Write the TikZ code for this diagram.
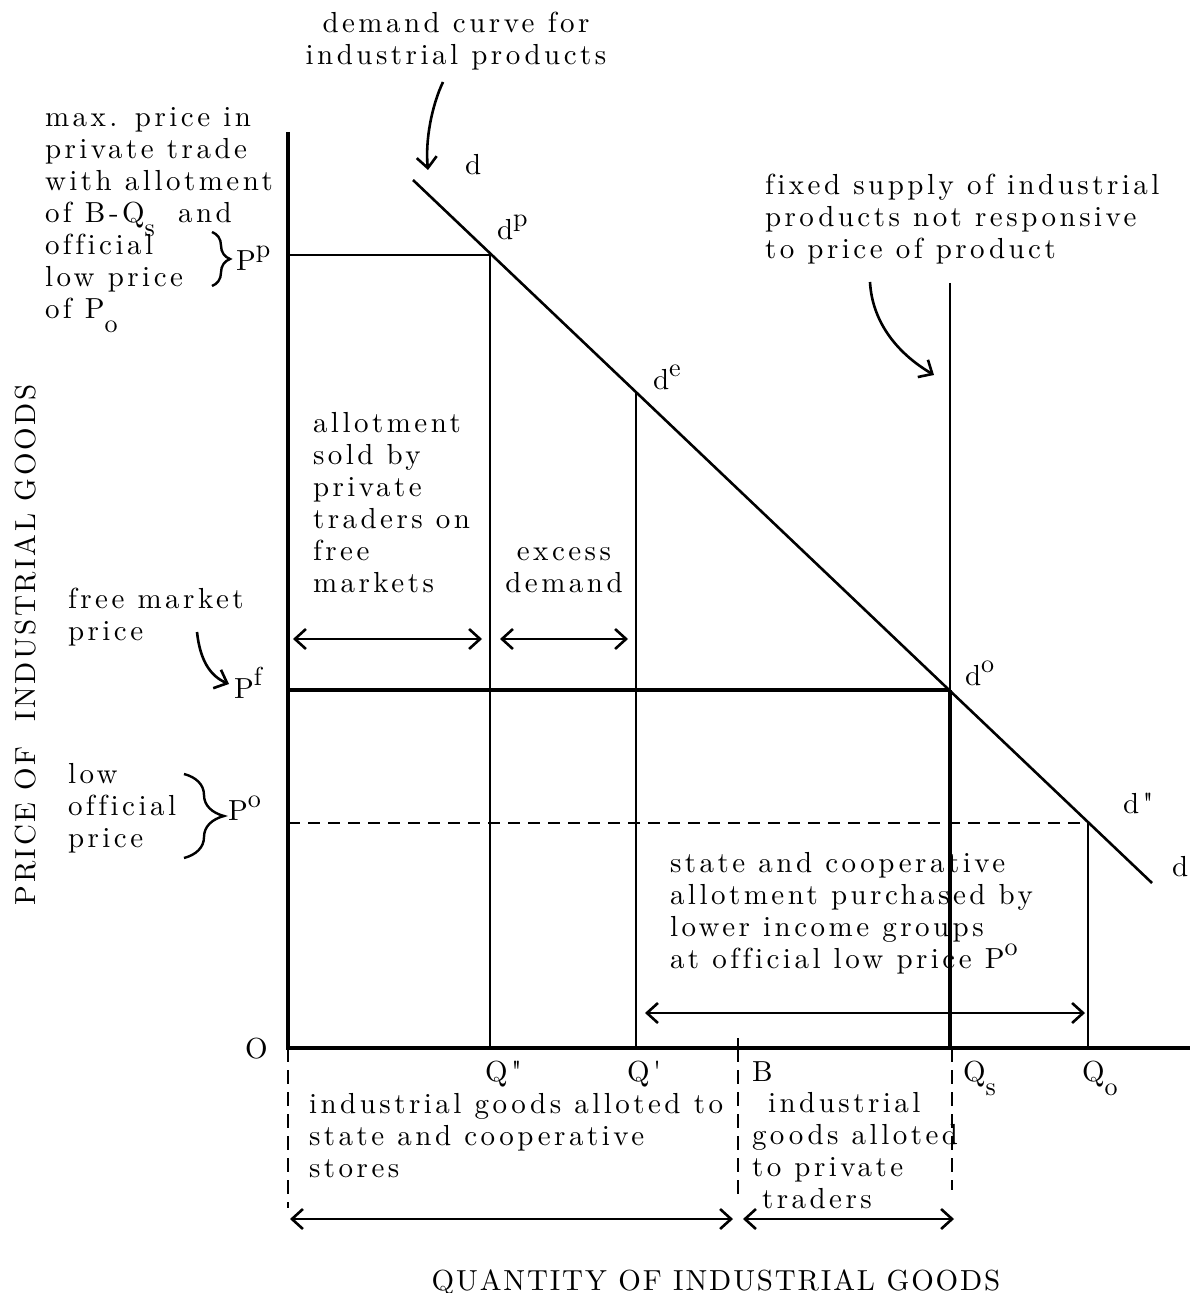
\documentclass[tikz,border=0pt]{standalone}
\usepackage{fontspec}
\setmainfont{lmroman10-regular.otf}[LetterSpace=12, Ligatures={TeXOff,CommonOff}]
\usetikzlibrary{arrows.meta,decorations.pathreplacing}
\newcommand{\sps}[1]{\smash{\raisebox{6.5pt}{\fontsize{13}{13}\selectfont #1}}}
\newcommand{\sbs}[1]{\smash{\raisebox{-7pt}{\fontsize{13}{13}\selectfont #1}}}
\newcommand{\st}{\rule{0pt}{10pt}}
\tikzset{
  every node/.style={font=\fontsize{14.5}{16}\selectfont, inner sep=0pt, outer sep=0pt},
  blk/.style={align=left, anchor=north west},
  blkc/.style={align=center, anchor=north},
  lbl/.style={anchor=base west},
  thin/.style={line width=1.3pt},
  thick/.style={line width=2.4pt},
  axis/.style={line width=2.3pt},
  dsh/.style={line width=1.3pt, dash pattern=on 6pt off 4pt},
  dshv/.style={line width=1.3pt, dash pattern=on 7pt off 4pt},
  dbl/.style={line width=1.3pt, {Straight Barb[length=5.5pt,width=10pt]}-{Straight Barb[length=5.5pt,width=10pt]}},
  sgl/.style={line width=1.3pt, -{Straight Barb[length=5.5pt,width=10pt]}},
  brc/.style={line width=1.2pt, decorate},
}
\begin{document}
\begin{tikzpicture}[x=0.5pt,y=-0.5pt]
\useasboundingbox (0,0) rectangle (1192,1293);
% key points
\coordinate (O) at (288,1048);
\coordinate (ytop) at (288,132);
\coordinate (xend) at (1190,1048);
\coordinate (dtop) at (413,180);
\coordinate (dend) at (1152,883);
\coordinate (pp) at (288,255);
\coordinate (dp) at (490,255);
\coordinate (qpp) at (490,1048);
\coordinate (de) at (636,393);
\coordinate (qp) at (636,1048);
\coordinate (pf) at (288,690);
\coordinate (do) at (950,690);
\coordinate (stop) at (950,283);
\coordinate (qs) at (950,1048);
\coordinate (po) at (288,823);
\coordinate (dpp) at (1088,823);
\coordinate (qo) at (1088,1048);
\coordinate (btick) at (738,1038);
\coordinate (b) at (738,1048);
\coordinate (bbot) at (738,1200);
\coordinate (obot) at (288,1208);
\coordinate (qstop) at (952,1048);
\coordinate (qsbot) at (952,1190);
\coordinate (a1l) at (293,639); \coordinate (a1r) at (482,639);
\coordinate (a2l) at (500,639); \coordinate (a2r) at (628,639);
\coordinate (a3l) at (645,1013); \coordinate (a3r) at (1085,1013);
\coordinate (a4l) at (290,1219); \coordinate (a4r) at (733,1219);
\coordinate (a5l) at (743,1219); \coordinate (a5r) at (954,1219);

% axes
\draw[axis] (ytop) -- (O) -- (xend);
% demand curve
\draw[thin] (dtop) -- (dend);
% lines
\draw[thin] (pp) -- (dp) -- (qpp);
\draw[thin] (de) -- (qp);
\draw[thick] (pf) -- (do);
\draw[thin] (stop) -- (do);
\draw[thick] (do) -- (qs);
\draw[dsh] (po) -- (dpp);
\draw[thin] (dpp) -- (qo);
\draw[thin] (btick) -- (b);
\draw[dshv] (b) -- (bbot);
\draw[dshv] (O) -- (obot);
\draw[dshv] (qstop) -- (qsbot);
% arrows
\draw[dbl] (a1l) -- (a1r);
\draw[dbl] (a2l) -- (a2r);
\draw[dbl] (a3l) -- (a3r);
\draw[dbl] (a4l) -- (a4r);
\draw[dbl] (a5l) -- (a5r);

% labels
\node[blkc] (demlbl) at (456,12) {\st demand curve for\\industrial products};
\coordinate (demA) at (443,82); \coordinate (demB) at (428,170);
\draw[sgl] (demA) .. controls (432,105) and (425,140) .. (demB);

\node[blk] (fixlbl) at (765,174) {\st fixed supply of industrial\\products not responsive\\to price of product};
\coordinate (supA) at (870,282); \coordinate (supB) at (934,375);
\draw[sgl] (supA) .. controls (872,320) and (895,352) .. (supB);

\node[blk] (maxlbl) at (45,107) {\st max. price in\\private trade\\with allotment\\of B-Q\sbs{s}\hspace{5pt} and\\official\\low price\\of P\sbs{o}};
\coordinate (brA) at (212,232); \coordinate (brB) at (212,286);
\draw[brc, decoration={brace, amplitude=9pt}] (brA) -- (brB);
\node[lbl] (Pp) at (236,271) {P\sps{p}};

\node[blk] (alllbl) at (313,412) {\st allotment\\sold by\\private\\traders on\\free\\markets};
\node[blkc] (exclbl) at (564,540) {\st excess\\demand};

\node[blk] (freelbl) at (68,588) {\st free market\\price};
\coordinate (frA) at (197,632); \coordinate (frB) at (229,684);
\draw[sgl] (frA) .. controls (200,660) and (210,676) .. (frB);
\node[lbl] (Pf) at (234,698) {P\sps{f}};

\node[blk] (lowlbl) at (68,763) {\st low\\official\\price};
\coordinate (br2A) at (184,774); \coordinate (br2B) at (184,858);
\draw[brc, decoration={brace, amplitude=20pt}] (br2A) -- (br2B);
\node[lbl] (Po) at (228,820) {P\sps{o}};

\node[lbl] (dlab1) at (465,175) {d};
\node[lbl] (dplab) at (497,240) {d\sps{p}};
\node[lbl] (delab) at (653,390) {d\sps{e}};
\node[lbl] (dolab) at (965,685) {d\sps{o}};
\node[lbl] (dpplab) at (1123,813) {d"};
\node[lbl] (dlab2) at (1172,876) {d};

\node[blk] (statelbl) at (670,852) {\st state and cooperative\\allotment purchased by\\lower income groups\\at official low price P\sps{o}};

\node[lbl] (Olab) at (245,1058) {O};
\node[lbl] (Qpplab) at (485,1081) {Q"};
\node[lbl] (Qplab) at (627,1081) {Q'};
\node[lbl] (Blab) at (752,1081) {B};
\node[lbl] (Qslab) at (963,1081) {Q\sbs{s}};
\node[lbl] (Qolab) at (1082,1081) {Q\sbs{o}};

\node[blk] (indlbl1) at (309,1093) {\st industrial goods alloted to\\state and cooperative\\stores};
\node[blk] (indlbl2) at (752,1092) {\st\hspace*{8pt}industrial\\goods alloted\\to private\\\hspace*{5pt}traders};

\node[anchor=base, font=\fontsize{14.5}{16}\selectfont\addfontfeatures{LetterSpace=6.5}] (qlab) at (716,1290) {QUANTITY OF INDUSTRIAL GOODS};
\node[rotate=90, font=\fontsize{14.5}{16}\selectfont\addfontfeatures{LetterSpace=9}] (plab) at (25,645) {PRICE OF\hspace{6pt} INDUSTRIAL GOODS};
\end{tikzpicture}
\end{document}
